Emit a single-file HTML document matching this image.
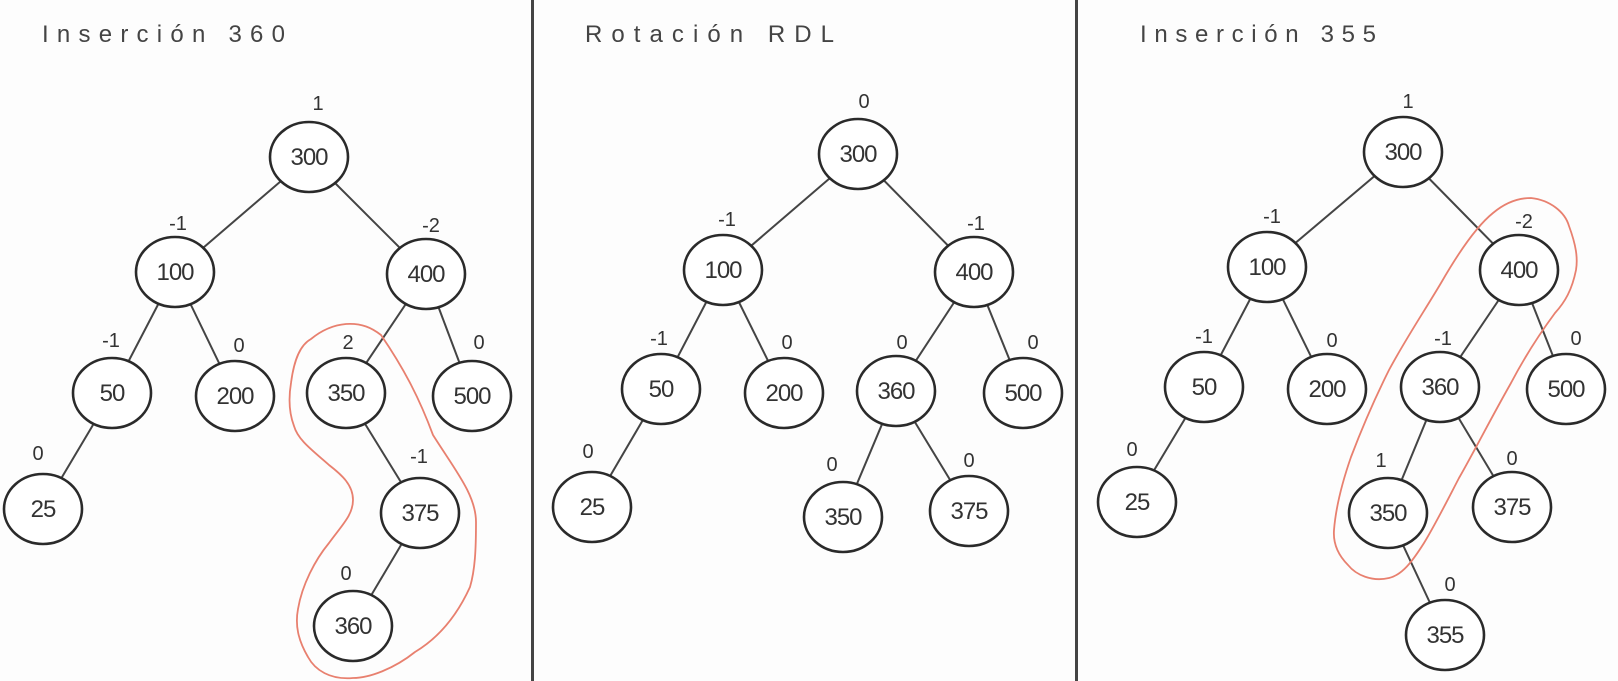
<!DOCTYPE html>
<html><head><meta charset="utf-8"><style>
html,body{margin:0;padding:0;background:#fdfdfd;}
svg{display:block}
text{font-family:"Liberation Sans",sans-serif;fill:#333;}
.n{fill:#fff;stroke:#2a2a2a;stroke-width:2.6}
.e{stroke:#444;stroke-width:2}
.v{font-size:24px;text-anchor:middle;letter-spacing:-1px}
.b{font-size:20px;text-anchor:middle}
.t{font-size:24px;fill:#444}
.r{fill:none;stroke:#e8806f;stroke-width:1.8}
</style></head><body>
<svg width="1618" height="681" viewBox="0 0 1618 681">
<rect x="531" y="0" width="3" height="681" fill="#444"/>
<rect x="1075" y="0" width="3" height="681" fill="#444"/>
<text class="t" x="42" y="42" textLength="243" lengthAdjust="spacing">Inserción 360</text>
<text class="t" x="585" y="42" textLength="249" lengthAdjust="spacing">Rotación RDL</text>
<text class="t" x="1140" y="42" textLength="236" lengthAdjust="spacing">Inserción 355</text>

<!-- Panel 1 -->
<g class="e">
<line x1="309" y1="157" x2="175" y2="272"/><line x1="309" y1="157" x2="426" y2="274"/>
<line x1="175" y1="272" x2="112" y2="393"/><line x1="175" y1="272" x2="235" y2="396"/>
<line x1="112" y1="393" x2="43" y2="509"/>
<line x1="426" y1="274" x2="346" y2="393"/><line x1="426" y1="274" x2="472" y2="396"/>
<line x1="346" y1="393" x2="420" y2="513"/><line x1="420" y1="513" x2="353" y2="626"/>
</g>
<path class="r" d="M346,324 C362,323 372,328 381,335 C405,370 420,400 433,435 C455,470 476,495 476,522 C476,550 475,570 470,587 C455,620 435,640 415,652 C395,668 370,678 353,678 C330,680 315,670 308,657 C298,640 295,625 298,609 C302,585 315,560 329,543 C342,525 353,515 353,500 C353,485 342,475 329,465 C312,450 298,440 294,426 C288,410 289,395 291,383 C294,360 300,345 311,339 C322,330 334,325 346,324 Z"/>
<g class="n">
<ellipse cx="309" cy="157" rx="39" ry="35"/><ellipse cx="175" cy="272" rx="39" ry="35"/><ellipse cx="426" cy="274" rx="39" ry="35"/>
<ellipse cx="112" cy="393" rx="39" ry="35"/><ellipse cx="235" cy="396" rx="39" ry="35"/><ellipse cx="346" cy="393" rx="39" ry="35"/>
<ellipse cx="472" cy="396" rx="39" ry="35"/><ellipse cx="43" cy="509" rx="39" ry="35"/><ellipse cx="420" cy="513" rx="39" ry="35"/>
<ellipse cx="353" cy="626" rx="39" ry="35"/>
</g>
<g class="v">
<text x="309" y="165">300</text><text x="175" y="280">100</text><text x="426" y="282">400</text>
<text x="112" y="401">50</text><text x="235" y="404">200</text><text x="346" y="401">350</text>
<text x="472" y="404">500</text><text x="43" y="517">25</text><text x="420" y="521">375</text><text x="353" y="634">360</text>
</g>
<g class="b">
<text x="318" y="110">1</text><text x="178" y="230">-1</text><text x="431" y="232">-2</text>
<text x="111" y="347">-1</text><text x="239" y="352">0</text><text x="348" y="349">2</text><text x="479" y="349">0</text>
<text x="38" y="460">0</text><text x="419" y="463">-1</text><text x="346" y="580">0</text>
</g>

<!-- Panel 2 -->
<g class="e">
<line x1="858" y1="154" x2="723" y2="270"/><line x1="858" y1="154" x2="974" y2="272"/>
<line x1="723" y1="270" x2="661" y2="389"/><line x1="723" y1="270" x2="784" y2="393"/>
<line x1="661" y1="389" x2="592" y2="507"/>
<line x1="974" y1="272" x2="896" y2="391"/><line x1="974" y1="272" x2="1023" y2="393"/>
<line x1="896" y1="391" x2="843" y2="517"/><line x1="896" y1="391" x2="969" y2="511"/>
</g>
<g class="n">
<ellipse cx="858" cy="154" rx="39" ry="35"/><ellipse cx="723" cy="270" rx="39" ry="35"/><ellipse cx="974" cy="272" rx="39" ry="35"/>
<ellipse cx="661" cy="389" rx="39" ry="35"/><ellipse cx="784" cy="393" rx="39" ry="35"/><ellipse cx="896" cy="391" rx="39" ry="35"/>
<ellipse cx="1023" cy="393" rx="39" ry="35"/><ellipse cx="592" cy="507" rx="39" ry="35"/><ellipse cx="843" cy="517" rx="39" ry="35"/>
<ellipse cx="969" cy="511" rx="39" ry="35"/>
</g>
<g class="v">
<text x="858" y="162">300</text><text x="723" y="278">100</text><text x="974" y="280">400</text>
<text x="661" y="397">50</text><text x="784" y="401">200</text><text x="896" y="399">360</text>
<text x="1023" y="401">500</text><text x="592" y="515">25</text><text x="843" y="525">350</text><text x="969" y="519">375</text>
</g>
<g class="b">
<text x="864" y="108">0</text><text x="727" y="226">-1</text><text x="976" y="230">-1</text>
<text x="659" y="345">-1</text><text x="787" y="349">0</text><text x="902" y="349">0</text><text x="1033" y="349">0</text>
<text x="588" y="458">0</text><text x="832" y="471">0</text><text x="969" y="467">0</text>
</g>

<!-- Panel 3 -->
<g class="e">
<line x1="1403" y1="152" x2="1267" y2="267"/><line x1="1403" y1="152" x2="1519" y2="270"/>
<line x1="1267" y1="267" x2="1204" y2="387"/><line x1="1267" y1="267" x2="1327" y2="389"/>
<line x1="1204" y1="387" x2="1135" y2="502"/>
<line x1="1519" y1="270" x2="1440" y2="387"/><line x1="1519" y1="270" x2="1566" y2="389"/>
<line x1="1440" y1="387" x2="1388" y2="513"/><line x1="1440" y1="387" x2="1512" y2="507"/>
<line x1="1388" y1="513" x2="1445" y2="635"/>
</g>
<path class="r" d="M1531,198 C1550,200 1565,212 1569,226 C1576,245 1578,258 1576,270 C1572,290 1565,302 1555,313 C1535,340 1522,362 1511,383 C1490,420 1475,450 1459,478 C1445,505 1435,525 1424,543 C1412,562 1402,575 1389,578 C1372,582 1356,575 1348,565 C1338,555 1333,543 1334,530 C1336,505 1343,480 1351,457 C1362,428 1375,398 1389,370 C1405,340 1425,310 1441,283 C1460,250 1478,225 1493,213 C1505,203 1518,198 1531,198 Z"/>
<g class="n">
<ellipse cx="1403" cy="152" rx="39" ry="35"/><ellipse cx="1267" cy="267" rx="39" ry="35"/><ellipse cx="1519" cy="270" rx="39" ry="35"/>
<ellipse cx="1204" cy="387" rx="39" ry="35"/><ellipse cx="1327" cy="389" rx="39" ry="35"/><ellipse cx="1440" cy="387" rx="39" ry="35"/>
<ellipse cx="1566" cy="389" rx="39" ry="35"/><ellipse cx="1137" cy="502" rx="39" ry="35"/><ellipse cx="1388" cy="513" rx="39" ry="35"/>
<ellipse cx="1512" cy="507" rx="39" ry="35"/><ellipse cx="1445" cy="635" rx="39" ry="35"/>
</g>
<g class="v">
<text x="1403" y="160">300</text><text x="1267" y="275">100</text><text x="1519" y="278">400</text>
<text x="1204" y="395">50</text><text x="1327" y="397">200</text><text x="1440" y="395">360</text>
<text x="1566" y="397">500</text><text x="1137" y="510">25</text><text x="1388" y="521">350</text><text x="1512" y="515">375</text><text x="1445" y="643">355</text>
</g>
<g class="b">
<text x="1408" y="108">1</text><text x="1272" y="223">-1</text><text x="1524" y="228">-2</text>
<text x="1204" y="343">-1</text><text x="1332" y="347">0</text><text x="1443" y="345">-1</text><text x="1576" y="345">0</text>
<text x="1132" y="456">0</text><text x="1381" y="467">1</text><text x="1512" y="465">0</text><text x="1450" y="591">0</text>
</g>
</svg>
</body></html>
